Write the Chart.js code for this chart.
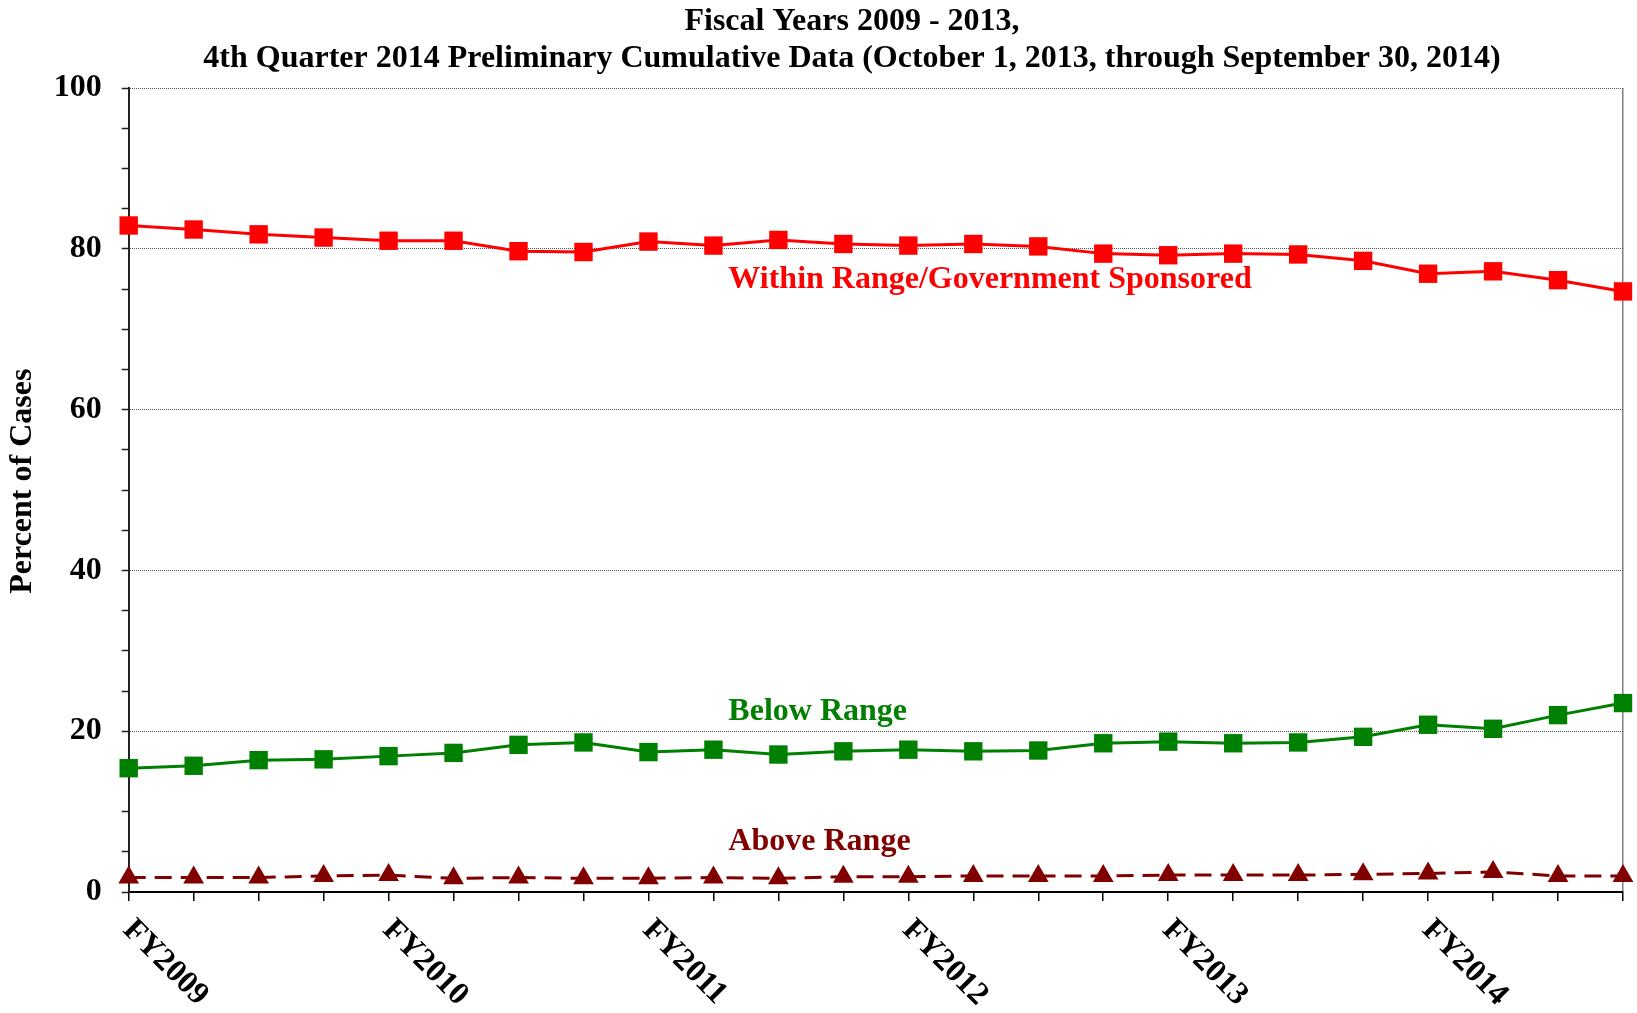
<!DOCTYPE html>
<html>
<head>
<meta charset="utf-8">
<script src="https://cdn.jsdelivr.net/npm/chart.js@4/dist/chart.umd.min.js"></script>
<style>
  html, body { margin: 0; padding: 0; background: #ffffff; }
  #wrap { width: 1637px; height: 1013px; position: relative; }
</style>
</head>
<body>
<div id="wrap"><canvas id="c" width="1637" height="1013"></canvas></div>
<script>
// ---- data ----
const quarters = [
  'FY2009 Q1','FY2009 Q2','FY2009 Q3','FY2009 Q4',
  'FY2010 Q1','FY2010 Q2','FY2010 Q3','FY2010 Q4',
  'FY2011 Q1','FY2011 Q2','FY2011 Q3','FY2011 Q4',
  'FY2012 Q1','FY2012 Q2','FY2012 Q3','FY2012 Q4',
  'FY2013 Q1','FY2013 Q2','FY2013 Q3','FY2013 Q4',
  'FY2014 Q1','FY2014 Q2','FY2014 Q3','FY2014 Q4'
];
const withinRange = [82.9, 82.4, 81.8, 81.4, 81.0, 81.0, 79.7, 79.6, 80.9, 80.4, 81.1, 80.6,
                     80.4, 80.6, 80.3, 79.4, 79.2, 79.4, 79.3, 78.5, 76.9, 77.2, 76.1, 74.7];
const belowRange  = [15.4, 15.7, 16.4, 16.5, 16.9, 17.3, 18.3, 18.6, 17.4, 17.7, 17.1, 17.5,
                     17.7, 17.5, 17.6, 18.5, 18.7, 18.5, 18.6, 19.3, 20.8, 20.3, 22.0, 23.5];
const aboveRange  = [1.8, 1.8, 1.8, 2.0, 2.1, 1.7, 1.8, 1.7, 1.7, 1.8, 1.7, 1.9,
                     1.9, 2.0, 2.0, 2.0, 2.1, 2.1, 2.1, 2.2, 2.3, 2.5, 2.0, 2.0];
const yearLabels  = ['FY2009','FY2010','FY2011','FY2012','FY2013','FY2014'];
const seriesNames = ['Within Range/Government Sponsored', 'Below Range', 'Above Range'];
const titleLines  = ['Fiscal Years 2009 - 2013,',
                     '4th Quarter 2014 Preliminary Cumulative Data (October 1, 2013, through September 30, 2014)'];
const yAxisTitle  = 'Percent of Cases';

// ---- styles ----
const FONT = '"Liberation Serif", "Times New Roman", serif';
const RED = '#ff0000', GREEN = '#008000', DARKRED = '#800000';

const overlay = {
  id: 'overlay',
  afterDraw(chart) {
    const ctx = chart.ctx;
    const xs = chart.scales.x, ys = chart.scales.y;
    ctx.save();
    // title
    ctx.fillStyle = '#000';
    ctx.font = 'bold 32px ' + FONT;
    ctx.textAlign = 'center';
    ctx.textBaseline = 'alphabetic';
    ctx.fillText(titleLines[0], 852, 30);
    ctx.fillText(titleLines[1], 852, 67);

    // y axis title
    ctx.save();
    ctx.translate(23, ys.getPixelForValue(51.1));
    ctx.rotate(-Math.PI / 2);
    ctx.textAlign = 'center';
    ctx.textBaseline = 'middle';
    ctx.fillText(yAxisTitle, 0, 0);
    ctx.restore();

    // series annotations (placed in data coordinates)
    const ax = xs.getPixelForValue(9.23);
    ctx.textAlign = 'left';
    ctx.textBaseline = 'middle';
    ctx.fillStyle = RED;
    ctx.fillText(seriesNames[0], ax, ys.getPixelForValue(76.1));
    ctx.fillStyle = GREEN;
    ctx.fillText(seriesNames[1], ax, ys.getPixelForValue(22.4));
    ctx.fillStyle = DARKRED;
    ctx.fillText(seriesNames[2], ax, ys.getPixelForValue(6.2));

    // rotated year labels
    ctx.fillStyle = '#000';
    ctx.textBaseline = 'alphabetic';
    yearLabels.forEach((lab, i) => {
      const px = xs.getPixelForValue(i * 4);
      ctx.save();
      ctx.translate(px - 7, xs.top + 39);
      ctx.rotate(Math.PI / 4);
      ctx.fillText(lab, 0, 0);
      ctx.restore();
    });
    ctx.restore();
  }
};

const lastIdx = quarters.length - 1;

new Chart(document.getElementById('c'), {
  type: 'line',
  data: {
    labels: quarters,
    datasets: [
      { label: seriesNames[0], data: withinRange, borderColor: RED, backgroundColor: RED,
        borderWidth: 3, pointStyle: 'rect', pointRadius: 13, pointBorderWidth: 0, tension: 0 },
      { label: seriesNames[1], data: belowRange, borderColor: GREEN, backgroundColor: GREEN,
        borderWidth: 3, pointStyle: 'rect', pointRadius: 13, pointBorderWidth: 0, tension: 0 },
      { label: seriesNames[2], data: aboveRange, borderColor: DARKRED, backgroundColor: DARKRED,
        borderWidth: 3, borderDash: [17, 9], pointStyle: 'triangle', pointRadius: 12, pointBorderWidth: 0, tension: 0 }
    ]
  },
  options: {
    responsive: false,
    animation: false,
    devicePixelRatio: 1,
    clip: false,
    layout: { padding: { top: 88, right: 14, bottom: 0, left: 0 } },
    plugins: {
      legend: { display: false },
      title: { display: false },
      tooltip: { enabled: false }
    },
    scales: {
      x: {
        type: 'category',
        offset: false,
        afterFit(scale) { scale.height = 121; },
        ticks: { display: false },
        grid: {
          offset: false,
          drawOnChartArea: true,
          color: (c) => (c.index === lastIdx ? '#808080' : 'rgba(0,0,0,0)'),
          lineWidth: 1.5,
          tickColor: '#000',
          tickLength: 9,
          tickWidth: 1.5
        },
        border: { display: true, color: '#000', width: 2 }
      },
      y: {
        min: 0, max: 100,
        afterFit(scale) { scale.width = 128.7; },
        ticks: {
          stepSize: 5,
          autoSkip: false,
          padding: 20,
          color: '#000',
          font: { family: FONT, size: 32, weight: 'bold' },
          callback: (v) => (v % 20 === 0 ? String(v) : '')
        },
        grid: {
          color: (c) => (c.tick && c.tick.value % 20 === 0 && c.tick.value > 0 ? '#555555' : 'rgba(0,0,0,0)'),
          lineWidth: 1,
          tickColor: '#222',
          tickLength: 7,
          tickWidth: 1.5,
          tickBorderDash: []
        },
        border: { display: true, color: '#222', width: 2, dash: [1, 1] },
        title: { display: false }
      }
    }
  },
  plugins: [overlay]
});
</script>
</body>
</html>
